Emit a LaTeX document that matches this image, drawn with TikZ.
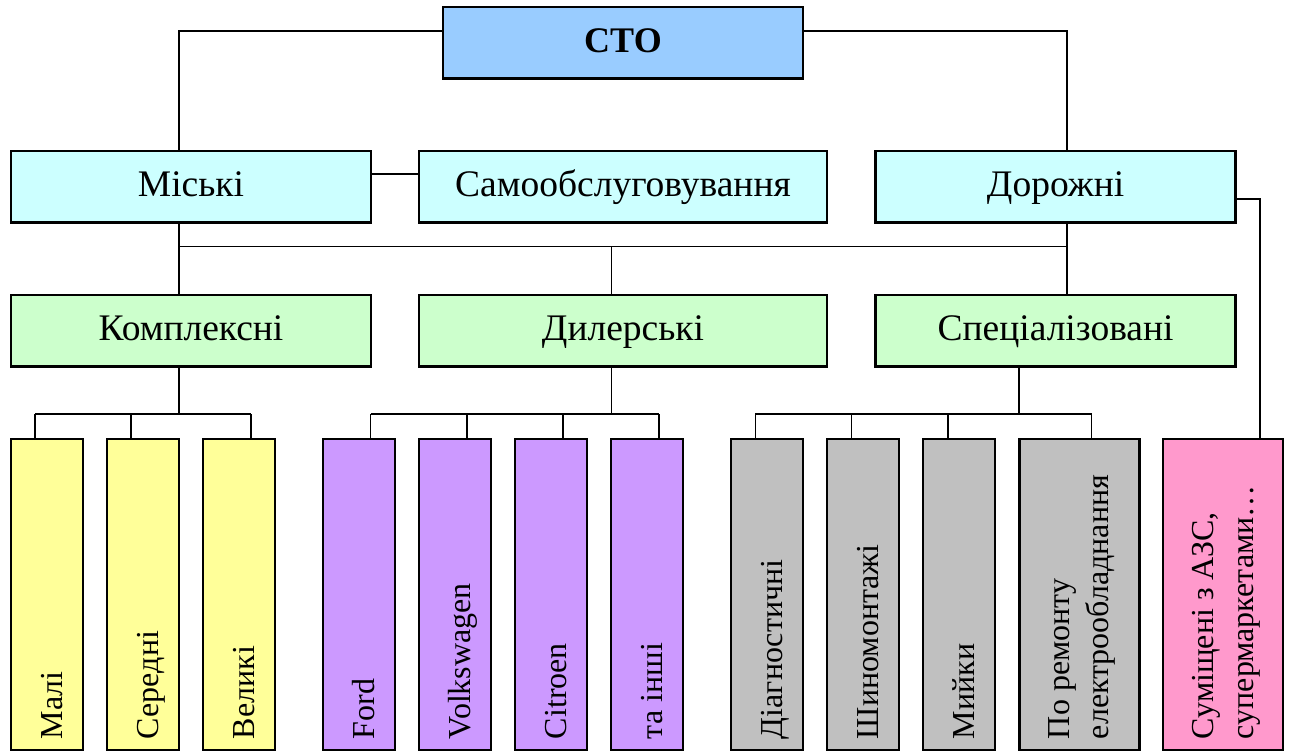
\documentclass[tikz,border=0pt]{standalone}
\usepackage{fontspec}
\setmainfont{Liberation Serif}
\definecolor{cblue}{HTML}{99CCFF}
\definecolor{ccyan}{HTML}{CCFFFF}
\definecolor{cgreen}{HTML}{CCFFCC}
\definecolor{cyellow}{HTML}{FFFF99}
\definecolor{cviolet}{HTML}{CC99FF}
\definecolor{cgrey}{HTML}{C0C0C0}
\definecolor{cpink}{HTML}{FF99CC}
\begin{document}
\begin{tikzpicture}[x=1pt,y=-1pt,
  box/.style={draw=black, line width=2.3pt, inner sep=0pt, outer sep=0pt,
    minimum height=71.5pt, text height=26pt, text depth=6pt,
    font=\fontsize{37.5}{42}\selectfont},
  vbox/.style={draw=black, line width=2.3pt, inner sep=0pt, outer sep=0pt,
    minimum width=72pt, minimum height=311pt},
  vtxt/.style={rotate=90, anchor=base west, inner sep=0pt, outer sep=0pt,
    font=\fontsize{32}{38}\selectfont},
  conn/.style={line width=1.8pt}]
\useasboundingbox (0,0) rectangle (1291,751);

% top level
\node[box, fill=cblue, minimum width=360pt] (sto) at (623,42.75) {\fontsize{36}{40}\selectfont\bfseries СТО};
% second level
\node[box, fill=ccyan, minimum width=360pt] (misk) at (191,186.75) {Міські};
\node[box, fill=ccyan, minimum width=408pt] (samo) at (623,186.75) {Самообслуговування};
\node[box, fill=ccyan, minimum width=360pt] (dor) at (1055.6,186.75) {Дорожні};
% third level
\node[box, fill=cgreen, minimum width=360pt] (kompl) at (191,330.75) {Комплексні};
\node[box, fill=cgreen, minimum width=408pt] (diler) at (623,330.75) {Дилерські};
\node[box, fill=cgreen, minimum width=360pt] (spec) at (1055.6,330.75) {Спеціалізовані};

% bottom level
\node[vbox, fill=cyellow] (mali) at (47,594.5) {};
\node[vbox, fill=cyellow] (seredni) at (143,594.5) {};
\node[vbox, fill=cyellow] (velyki) at (239,594.5) {};
\node[vbox, fill=cviolet] (ford) at (359,594.5) {};
\node[vbox, fill=cviolet] (vw) at (455,594.5) {};
\node[vbox, fill=cviolet] (citroen) at (551,594.5) {};
\node[vbox, fill=cviolet] (inshi) at (647,594.5) {};
\node[vbox, fill=cgrey] (diag) at (767,594.5) {};
\node[vbox, fill=cgrey] (shyno) at (863,594.5) {};
\node[vbox, fill=cgrey] (myiky) at (959,594.5) {};
\node[vbox, fill=cgrey, minimum width=120pt] (elektro) at (1079.5,594.5) {};
\node[vbox, fill=cpink, minimum width=120pt] (azs) at (1223,594.5) {};

% vertical texts
\node[vtxt] (tmali) at ([xshift=51pt,yshift=11pt]mali.south west) {Малі};
\node[vtxt] (tseredni) at ([xshift=51pt,yshift=11pt]seredni.south west) {Середні};
\node[vtxt] (tvelyki) at ([xshift=51pt,yshift=11pt]velyki.south west) {Великі};
\node[vtxt] (tford) at ([xshift=51pt,yshift=11pt]ford.south west) {Ford};
\node[vtxt] (tvw) at ([xshift=51pt,yshift=11pt]vw.south west) {Volkswagen};
\node[vtxt] (tcitroen) at ([xshift=51pt,yshift=11pt]citroen.south west) {Citroen};
\node[vtxt] (tinshi) at ([xshift=51pt,yshift=11pt]inshi.south west) {та інші};
\node[vtxt] (tdiag) at ([xshift=51pt,yshift=11pt]diag.south west) {Діагностичні};
\node[vtxt] (tshyno) at ([xshift=51pt,yshift=11pt]shyno.south west) {Шиномонтажі};
\node[vtxt] (tmyiky) at ([xshift=51pt,yshift=11pt]myiky.south west) {Мийки};
\node[vtxt] (telektro1) at ([xshift=50pt,yshift=11pt]elektro.south west) {По ремонту};
\node[vtxt] (telektro2) at ([xshift=89pt,yshift=11pt]elektro.south west) {електрообладнання};
\node[vtxt] (tazs1) at ([xshift=50pt,yshift=11pt]azs.south west) {Суміщені з АЗС,};
\node[vtxt] (tazs2) at ([xshift=90pt,yshift=11pt]azs.south west) {супермаркетами…};

% connectors top
\draw[conn] ([yshift=11.75pt]sto.west) -| ([xshift=-12pt]misk.north);
\draw[conn] ([yshift=11.75pt]sto.east) -| ([xshift=11.1pt]dor.north);
\draw[conn] ([yshift=12.75pt]misk.east) -- ([yshift=12.75pt]samo.west);
\draw[conn] ([xshift=-12pt]misk.south) -- ([xshift=-12pt]kompl.north);
\draw[conn] ([xshift=11.1pt]dor.south) -- ([xshift=11.1pt]spec.north);
\coordinate (busL) at (179,246.5);
\coordinate (busR) at (1066.7,246.5);
\coordinate (busD) at (611.5,246.5);
\draw[conn] (busL) -- (busR);
\draw[conn] (busD) -- (busD |- diler.north);
\coordinate (pk) at (1259.6,0);
\draw[conn] ([yshift=-12.55pt]dor.east) -| (pk |- azs.north);

% Комплексні group
\coordinate (k0) at (179,414);
\coordinate (ka) at (35,414);
\coordinate (kb) at (131,414);
\coordinate (kc) at (251,414);
\draw[conn] (k0 |- kompl.south) -- (k0);
\draw[conn] (ka) -- (kc);
\draw[conn] (ka) -- (ka |- mali.north);
\draw[conn] (kb) -- (kb |- seredni.north);
\draw[conn] (kc) -- (kc |- velyki.north);

% Дилерські group
\coordinate (d0) at (611.5,414);
\coordinate (da) at (370.5,414);
\coordinate (db) at (467,414);
\coordinate (dc) at (563,414);
\coordinate (dd) at (659,414);
\draw[conn] (d0 |- diler.south) -- (d0);
\draw[conn] (da) -- (dd);
\draw[conn] (da) -- (da |- ford.north);
\draw[conn] (db) -- (db |- vw.north);
\draw[conn] (dc) -- (dc |- citroen.north);
\draw[conn] (dd) -- (dd |- inshi.north);

% Спеціалізовані group
\coordinate (s0) at (1019,414);
\coordinate (sa) at (755.4,414);
\coordinate (sb) at (851.5,414);
\coordinate (sc) at (947.6,414);
\coordinate (sd) at (1091.5,414);
\draw[conn] (s0 |- spec.south) -- (s0);
\draw[conn] (sa) -- (sd);
\draw[conn] (sa) -- (sa |- diag.north);
\draw[conn] (sb) -- (sb |- shyno.north);
\draw[conn] (sc) -- (sc |- myiky.north);
\draw[conn] (sd) -- (sd |- elektro.north);
\end{tikzpicture}
\end{document}
